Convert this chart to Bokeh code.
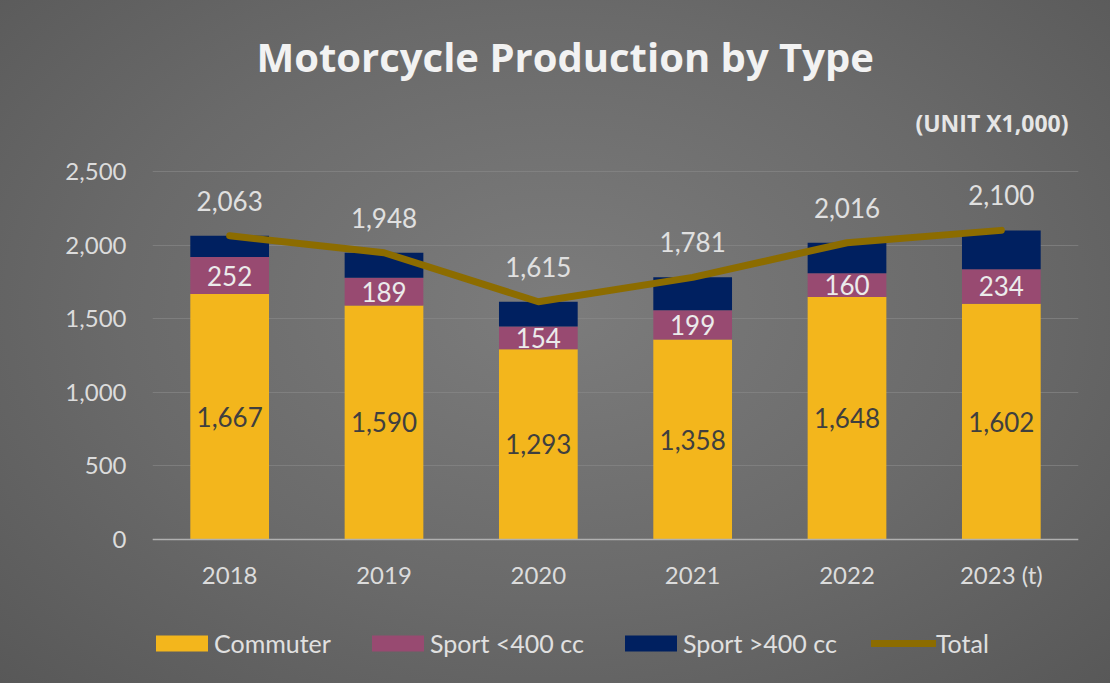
from bokeh.plotting import figure
from bokeh.models import ColumnDataSource, LabelSet, Legend, LegendItem, Title, Label, NumeralTickFormatter
from bokeh.core.properties import value
from bokeh.embed import file_html
from bokeh.resources import INLINE

years = ["2018", "2019", "2020", "2021", "2022", "2023 (t)"]
commuter = [1667, 1590, 1293, 1358, 1648, 1602]
sport_lt400 = [252, 189, 154, 199, 160, 234]
sport_gt400 = [144, 169, 168, 224, 208, 264]
total = [2063, 1948, 1615, 1781, 2016, 2100]
y_ticks = [0, 500, 1000, 1500, 2000, 2500]

FONT = "Lato"
TFONT = "Open Sans"
c_comm = "#f3b61c"
c_s1 = "#984a71"
c_s2 = "#002060"
c_tot = "#8c6c00"

src = ColumnDataSource(dict(
    x=years, commuter=commuter, sport_lt400=sport_lt400, sport_gt400=sport_gt400, total=total,
    comm_mid=[c / 2 for c in commuter],
    s1_mid=[c + s / 2 for c, s in zip(commuter, sport_lt400)],
    comm_lbl=[f"{v:,}" for v in commuter],
    s1_lbl=[f"{v:,}" for v in sport_lt400],
    tot_lbl=[f"{v:,}" for v in total],
))

# 2500 units span 368 px; the frame is extended above and below so labels/legend sit inside it
PX = 368 / 2500
y_bottom = -144 / PX
y_top = 2500 + 76 / PX
p = figure(x_range=years, y_range=(y_bottom, y_top), frame_width=926, frame_height=588,
           output_backend="svg", toolbar_location=None,
           min_border_left=152, min_border_right=32, min_border_top=95, min_border_bottom=0)
p.border_fill_alpha = 0
p.background_fill_alpha = 0
p.outline_line_color = None
p.styles = {"background": "radial-gradient(ellipse at 50% 45%, #7c7c7c 0%, #6a6a6a 55%, #585858 100%)"}

r = p.vbar_stack(["commuter", "sport_lt400", "sport_gt400"], x="x", width=0.51, source=src,
                 color=[c_comm, c_s1, c_s2], line_color=None)
ln = p.line(x="x", y="total", source=src, line_color=c_tot, line_width=7, line_join="round", line_cap="round")

p.add_layout(LabelSet(x="x", y="comm_mid", text="comm_lbl", source=src, text_align="center",
                      text_baseline="middle", text_color="#3f3f3f", text_font=value(FONT), text_font_size="26px"))
p.add_layout(LabelSet(x="x", y="s1_mid", text="s1_lbl", source=src, text_align="center",
                      text_baseline="middle", text_color="#ebebeb", text_font=value(FONT), text_font_size="26px"))
p.add_layout(LabelSet(x="x", y="total", text="tot_lbl", source=src, text_align="center", y_offset=35,
                      text_baseline="middle", text_color="#e0e0e0", text_font=value(FONT), text_font_size="26px"))

p.yaxis.ticker = y_ticks
p.yaxis.formatter = NumeralTickFormatter(format="0,0")
p.yaxis.axis_line_color = None
p.yaxis.major_tick_line_color = None
p.yaxis.minor_tick_line_color = None
p.yaxis.major_label_standoff = 20
p.xaxis.fixed_location = 0
p.xaxis.axis_line_color = "#b0b0b0"
p.xaxis.axis_line_width = 1.5
p.xaxis.major_tick_line_color = None
p.xaxis.major_label_standoff = 14
for ax in (p.xaxis, p.yaxis):
    ax.major_label_text_font = FONT
    ax.major_label_text_font_size = "24px"
    ax.major_label_text_color = "#dcdcdc"
p.xgrid.grid_line_color = None
p.ygrid.ticker = y_ticks
p.ygrid.grid_line_color = "#8a8a8a"
p.ygrid.grid_line_alpha = 0.6
p.x_range.range_padding = 0

legend = Legend(items=[
    LegendItem(label="Commuter", renderers=[r[0]]),
    LegendItem(label="Sport <400 cc", renderers=[r[1]]),
    LegendItem(label="Sport >400 cc", renderers=[r[2]]),
    LegendItem(label="Total", renderers=[ln]),
], orientation="horizontal", location=(-3, 25))
legend.label_text_font = FONT
legend.label_text_font_size = "25px"
legend.label_text_color = "#e0e0e0"
legend.glyph_width = 65
legend.glyph_height = 20
legend.label_standoff = 0
legend.spacing = 34
legend.background_fill_alpha = 0
legend.border_line_color = None
legend.margin = 0
legend.padding = 0
p.add_layout(legend, "center")

p.add_layout(Label(x=6 - 10 / 154.33, y=2500 + 49 / PX, text="(UNIT X1,000)", text_align="right",
                   text_baseline="middle", text_font=TFONT, text_font_size="23px",
                   text_font_style="bold", text_color="#e6e6e6"))
p.add_layout(Title(text="Motorcycle Production by Type", align="left", offset=104, text_font=TFONT,
                   text_font_size="40px", text_font_style="bold", text_color="#f2f2f2", standoff=23), "above")

open("out.html", "w").write(file_html(p, INLINE))
